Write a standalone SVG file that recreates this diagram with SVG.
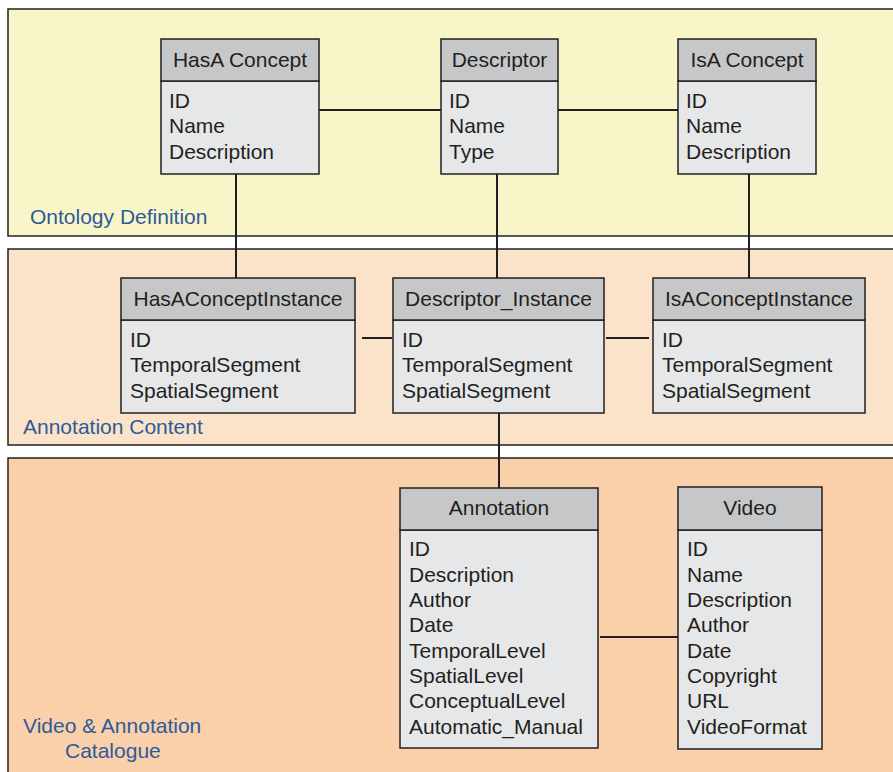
<svg xmlns="http://www.w3.org/2000/svg" width="893" height="772" viewBox="0 0 893 772">
<style>
.reg{stroke:#231f20;stroke-width:1.5}
.hdr{fill:#c6c7c8;stroke:#231f20;stroke-width:1.5}
.bdy{fill:#e6e7e8;stroke:#231f20;stroke-width:1.5}
.t{font-family:"Liberation Sans",Arial,sans-serif;font-size:21px;fill:#231f20}
.c{text-anchor:middle}
.lbl{font-family:"Liberation Sans",Arial,sans-serif;font-size:21px;fill:#2e5a9a}
.ln{stroke:#231f20;stroke-width:2;fill:none}
</style>
<rect width="893" height="772" fill="#ffffff"/>
<g id="regions">
<rect class="reg" x="8" y="9" width="900" height="227" fill="#f8f6c8"/>
<rect class="reg" x="8" y="249" width="900" height="196" fill="#fae3c8"/>
<rect class="reg" x="8" y="458" width="900" height="330" fill="#fad0ab"/>
<text class="lbl" x="30" y="224">Ontology Definition</text>
<text class="lbl" x="23" y="434">Annotation Content</text>
<text class="lbl" x="23" y="733">Video &amp; Annotation</text>
<text class="lbl" x="65" y="758">Catalogue</text>
</g>
<g id="connectors">
<line class="ln" x1="319" y1="110" x2="441" y2="110"/>
<line class="ln" x1="558" y1="110" x2="678" y2="110"/>
<line class="ln" x1="236" y1="174" x2="236" y2="278"/>
<line class="ln" x1="497" y1="174" x2="497" y2="278"/>
<line class="ln" x1="749" y1="174" x2="749" y2="278"/>
<line class="ln" x1="362" y1="338" x2="392" y2="338"/>
<line class="ln" x1="606" y1="338" x2="649" y2="338"/>
<line class="ln" x1="499" y1="413" x2="499" y2="488"/>
<line class="ln" x1="600" y1="637" x2="678" y2="637"/>
</g>
<g id="hasa-concept">
<rect class="bdy" x="161" y="81" width="158" height="93"/>
<rect class="hdr" x="161" y="39" width="158" height="42"/>
<text class="t c" x="240" y="67">HasA Concept</text>
<text class="t" x="169" y="108">ID</text>
<text class="t" x="169" y="133">Name</text>
<text class="t" x="169" y="159">Description</text>
</g>
<g id="descriptor">
<rect class="bdy" x="441" y="81" width="117" height="93"/>
<rect class="hdr" x="441" y="39" width="117" height="42"/>
<text class="t c" x="499.5" y="67">Descriptor</text>
<text class="t" x="449" y="108">ID</text>
<text class="t" x="449" y="133">Name</text>
<text class="t" x="449" y="159">Type</text>
</g>
<g id="isa-concept">
<rect class="bdy" x="678" y="81" width="138" height="93"/>
<rect class="hdr" x="678" y="39" width="138" height="42"/>
<text class="t c" x="747" y="67">IsA Concept</text>
<text class="t" x="686" y="108">ID</text>
<text class="t" x="686" y="133">Name</text>
<text class="t" x="686" y="159">Description</text>
</g>
<g id="hasa-instance">
<rect class="bdy" x="121" y="320" width="234" height="93"/>
<rect class="hdr" x="121" y="278" width="234" height="42"/>
<text class="t c" x="238" y="306">HasAConceptInstance</text>
<text class="t" x="130" y="347">ID</text>
<text class="t" x="130" y="372">TemporalSegment</text>
<text class="t" x="130" y="398">SpatialSegment</text>
</g>
<g id="descriptor-instance">
<rect class="bdy" x="393" y="320" width="211" height="93"/>
<rect class="hdr" x="393" y="278" width="211" height="42"/>
<text class="t c" x="498.5" y="306">Descriptor_Instance</text>
<text class="t" x="402" y="347">ID</text>
<text class="t" x="402" y="372">TemporalSegment</text>
<text class="t" x="402" y="398">SpatialSegment</text>
</g>
<g id="isa-instance">
<rect class="bdy" x="653" y="320" width="212" height="93"/>
<rect class="hdr" x="653" y="278" width="212" height="42"/>
<text class="t c" x="759" y="306">IsAConceptInstance</text>
<text class="t" x="662" y="347">ID</text>
<text class="t" x="662" y="372">TemporalSegment</text>
<text class="t" x="662" y="398">SpatialSegment</text>
</g>
<g id="annotation">
<rect class="bdy" x="400" y="530" width="198" height="218"/>
<rect class="hdr" x="400" y="488" width="198" height="42"/>
<text class="t c" x="499" y="515">Annotation</text>
<text class="t" x="409" y="556">ID</text>
<text class="t" x="409" y="582">Description</text>
<text class="t" x="409" y="607">Author</text>
<text class="t" x="409" y="632">Date</text>
<text class="t" x="409" y="658">TemporalLevel</text>
<text class="t" x="409" y="683">SpatialLevel</text>
<text class="t" x="409" y="708">ConceptualLevel</text>
<text class="t" x="409" y="734">Automatic_Manual</text>
</g>
<g id="video">
<rect class="bdy" x="678" y="530" width="144" height="219"/>
<rect class="hdr" x="678" y="487" width="144" height="43"/>
<text class="t c" x="750" y="515">Video</text>
<text class="t" x="687" y="556">ID</text>
<text class="t" x="687" y="582">Name</text>
<text class="t" x="687" y="607">Description</text>
<text class="t" x="687" y="632">Author</text>
<text class="t" x="687" y="658">Date</text>
<text class="t" x="687" y="683">Copyright</text>
<text class="t" x="687" y="708">URL</text>
<text class="t" x="687" y="734">VideoFormat</text>
</g>
</svg>
